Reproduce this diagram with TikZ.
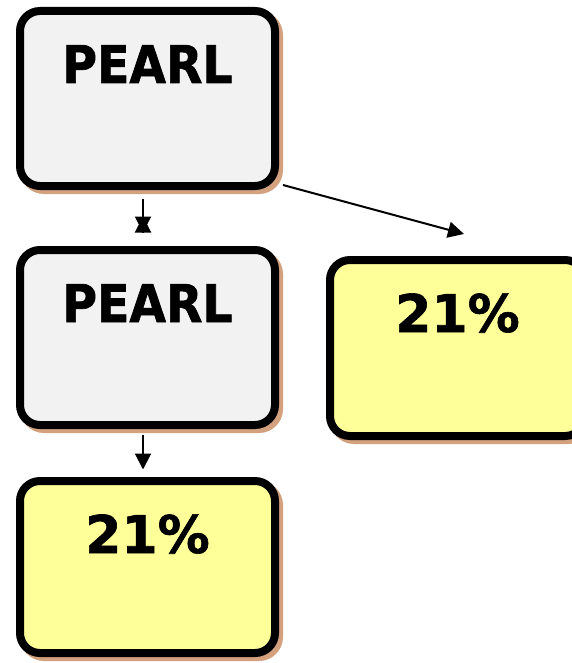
\documentclass[tikz,border=0pt]{standalone}
\usepackage{fontspec}
\newfontfamily\pfont{DejaVu Sans}[FakeStretch=0.91,BoldFeatures={FakeBold=1.2}]
\newfontfamily\nfont{DejaVu Sans}[BoldFeatures={FakeBold=1.2}]
\usetikzlibrary{arrows.meta,calc}
\definecolor{boxgray}{HTML}{F2F2F2}
\definecolor{boxyellow}{HTML}{FFFF99}
\definecolor{shadowtan}{HTML}{D3A17E}
\begin{document}
\begin{tikzpicture}[x=1pt,y=-1pt,
  box/.style={draw=black, line width=8pt, rounded corners=20pt,
    minimum width=255pt, minimum height=175pt, outer sep=0pt, inner sep=0pt,
    preaction={draw=shadowtan, line width=8pt, transform canvas={shift={(4pt,-4pt)}}}},
  graybox/.style={box, fill=boxgray},
  yellowbox/.style={box, fill=boxyellow},
  ptext/.style={anchor=base, yshift=-72pt, font=\pfont\bfseries\fontsize{52pt}{60pt}\selectfont},
  ntext/.style={anchor=base, yshift=-72pt, font=\nfont\bfseries\fontsize{52pt}{60pt}\selectfont},
  conn/.style={draw=black, line width=2pt, -{Triangle[length=16pt,width=16pt]}}
]
\useasboundingbox (0,0) rectangle (571,663);

\node[graybox, label={[ptext]north:PEARL}] (B1) at (147.5,98.5) {};
\node[graybox, label={[ptext]north:PEARL}] (B2) at (147.5,337.5) {};
\node[yellowbox, minimum height=172pt, label={[ntext]north:21\%}] (B3) at (147.5,567) {};
\node[yellowbox, minimum height=176pt, label={[ntext]north:21\%}] (B4) at (457.5,348) {};

% B1 -> B2 (bow-tie tip)
\coordinate (a1s) at ([xshift=-4.5pt,yshift=-13pt]B1.south);
\coordinate (a1e) at ([xshift=-4.5pt,yshift=17.5pt]B2.north);
\coordinate (a1u) at ([xshift=-4.5pt,yshift=33.5pt]B2.north);
\draw[conn] (a1s) -- (a1e);
\draw[conn] (a1e) -- (a1u);

% B1 -> B4
\coordinate (a2s) at ([xshift=8pt,yshift=1pt]B1.south east);
\coordinate (a2e) at ([xshift=6.5pt,yshift=26pt]B4.north);
\draw[conn] (a2s) -- (a2e);

% B2 -> B3
\coordinate (a3s) at ([xshift=-4.5pt,yshift=-10pt]B2.south);
\coordinate (a3e) at ([xshift=-4.5pt,yshift=11.5pt]B3.north);
\draw[conn] (a3s) -- (a3e);
\end{tikzpicture}
\end{document}
